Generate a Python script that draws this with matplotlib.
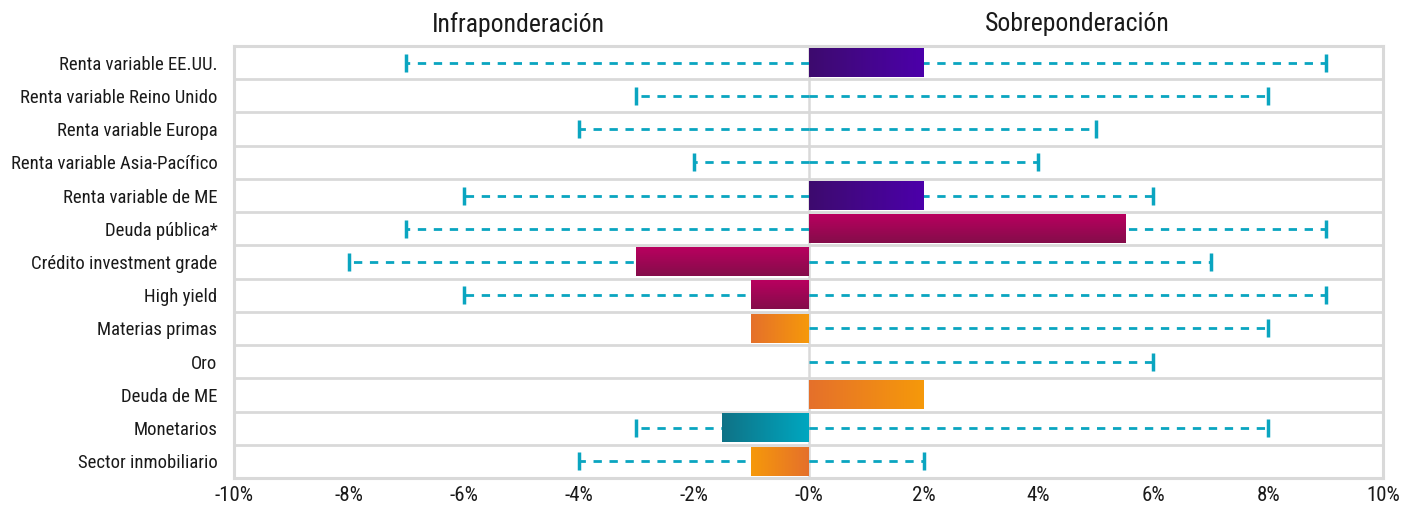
import numpy as np
import matplotlib
matplotlib.use("Agg")
import matplotlib.pyplot as plt
from matplotlib.colors import LinearSegmentedColormap

# data to plot
categories = ["Renta variable EE.UU.", "Renta variable Reino Unido", "Renta variable Europa",
              "Renta variable Asia-Pacífico", "Renta variable de ME", "Deuda pública*",
              "Crédito investment grade", "High yield", "Materias primas", "Oro",
              "Deuda de ME", "Monetarios", "Sector inmobiliario"]
position = [2, 0, 0, 0, 2, 5.5, -3, -1, -1, 0, 2, -1.5, -1]
range_low = [-7, -3, -4, -2, -6, -7, -8, -6, 0, 0, 0, -3, -4]
range_high = [9, 8, 5, 4, 6, 9, 7, 9, 8, 6, 0, 8, 2]
bar_style = ["purple", None, None, None, "purple", "magenta", "magenta", "magenta",
             "orange", None, "orange", "teal", "orange_rev"]
xticks = [-10, -8, -6, -4, -2, 0, 2, 4, 6, 8, 10]
xtick_labels = ["-10%", "-8%", "-6%", "-4%", "-2%", "-0%", "2%", "4%", "6%", "8%", "10%"]

plt.rcParams['font.family'] = ['Roboto Condensed', 'Roboto', 'DejaVu Sans']
plt.rcParams['lines.scale_dashes'] = False

# gradients: (start, end, direction)
gradients = {
    "purple": ("#3d0b6e", "#4c00aa", "h"),
    "magenta": ("#b9005f", "#840d4a", "v"),
    "orange": ("#e5702b", "#f6990a", "h"),
    "orange_rev": ("#f6990a", "#e5702b", "h"),
    "teal": ("#0f7286", "#00a7c0", "h"),
}

grid_col = "#d9d9d9"
err_col = "#0aa5c0"
text_col = "#1a1a1a"
bar_h = 0.85

fig = plt.figure(figsize=(14.1, 5.08), dpi=100)
ax = fig.add_axes([0.166, 0.059, 0.815, 0.8504])

n = len(categories)
y = np.arange(n)

# range lines (dashed) with caps
for i in range(n):
    for end in (range_low[i], range_high[i]):
        if end == 0:
            continue
        ax.plot([0, end], [i, i], color=err_col, lw=2.0,
                linestyle=(0, (6, 5.5)), zorder=2, solid_capstyle='butt')
        ax.plot([end], [i], marker='|', markersize=12.5, mew=2.5, color=err_col, zorder=3)

# bars with gradient fill
for i in range(n):
    st = bar_style[i]
    v = position[i]
    if st is None or v == 0:
        continue
    c0, c1, d = gradients[st]
    cmap = LinearSegmentedColormap.from_list(st, [c0, c1])
    grad = np.linspace(0, 1, 256)
    img = grad.reshape(1, -1) if d == "h" else grad.reshape(-1, 1)
    ax.imshow(img, cmap=cmap, aspect='auto', interpolation='bilinear',
              extent=(min(0, v), max(0, v), i + bar_h / 2, i - bar_h / 2),
              origin='upper', zorder=4)

# row separators and zero line
for k in range(n - 1):
    ax.axhline(k + 0.5, color=grid_col, lw=2.0, zorder=1)
ax.axvline(0, color=grid_col, lw=1.8, zorder=1)

ax.set_xlim(-10, 10)
ax.set_ylim(n - 0.5, -0.5)
for s in ax.spines.values():
    s.set_color(grid_col)
    s.set_linewidth(2.2)

ax.set_yticks(y)
ax.set_yticklabels(categories, fontsize=13.5, color=text_col)
ax.set_xticks(xticks)
ax.set_xticklabels(xtick_labels, fontsize=15, color=text_col)
ax.tick_params(length=0)
ax.tick_params(axis='x', pad=6)
ax.tick_params(axis='y', pad=12)

ax.text(-5.05, 1.05, "Infraponderación", transform=ax.get_xaxis_transform(),
        ha='center', va='center', fontsize=18.5, color=text_col)
ax.text(4.68, 1.05, "Sobreponderación", transform=ax.get_xaxis_transform(),
        ha='center', va='center', fontsize=18.5, color=text_col)

fig.savefig("out.png", dpi=100)
